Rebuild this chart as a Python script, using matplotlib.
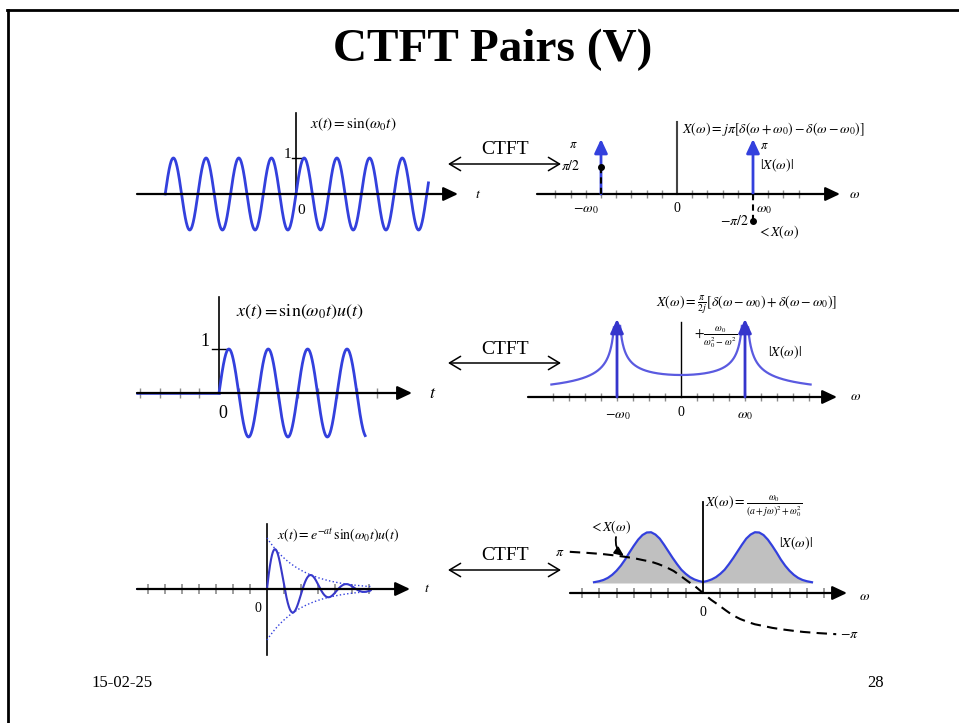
import numpy as np
import matplotlib
matplotlib.use('Agg')
import matplotlib.pyplot as plt

plt.rcParams['font.family'] = ['Liberation Serif', 'DejaVu Serif']
plt.rcParams['mathtext.fontset'] = 'stix'

#====================================
# (1) Data
#====================================
# row 1 : x(t) = sin(w0 t)  <->  impulses at +-w0
t1_range = (-4.0, 4.05)            # t in periods of the sine
w0_row1 = 5                        # impulse position in tick units
ticks_row1 = [k for k in range(-8, 9) if k != 0]
imp_omega = [-w0_row1, w0_row1]
imp_mag = [np.pi, np.pi]
imp_phase = [np.pi / 2, -np.pi / 2]

# row 2 : x(t) = sin(w0 t) u(t)
t2_range = (0.0, 7.42)             # t in tick units, period = 2 ticks
ticks_t2 = [k for k in range(-4, 9) if k != 0]
w0_row2 = 4                        # spectrum: w0 in tick units
ticks_row2 = [k for k in range(-8, 9) if k != 0]
w2_range = (-8.1, 8.1)

# row 3 : x(t) = exp(-a t) sin(w0 t) u(t)
t3_range = (0.0, 6.1)
a_row3 = 0.5
w0_t3 = 3.0
ticks_t3 = [k for k in range(-7, 7) if k != 0]
ticks_row3 = [k for k in range(-7, 8) if k != 0]
# |X(w)| (normalised) read on the right half, mirrored for the left half
mag_w = [0, 0.25, 0.5, 0.75, 1.0, 1.25, 1.5, 1.75, 2.0, 2.25, 2.5, 2.75,
         3.0, 3.25, 3.5, 3.75, 4.0, 4.25, 4.5, 4.75, 5.0, 5.25, 5.5, 5.75,
         6.0, 6.3]
mag_v = [0.02, 0.04, 0.07, 0.115, 0.18, 0.26, 0.37, 0.49, 0.62, 0.75,
         0.87, 0.95, 0.995, 0.99, 0.94, 0.85, 0.73, 0.60, 0.46, 0.34,
         0.24, 0.16, 0.10, 0.06, 0.035, 0.015]
# phase of X(w) in radians, right half (odd function)
ph_w = [0, 0.45, 0.9, 1.3, 1.7, 2.15, 2.6, 3.0, 3.5, 4.0, 4.6, 5.2, 5.8, 6.7, 7.7]
ph_v = [0, -0.5, -0.91, -1.3, -1.67, -1.97, -2.2, -2.37, -2.5, -2.64, -2.76,
        -2.86, -2.95, -3.04, -3.12]

#====================================
# (2) Slide layout helpers (pixels)
#====================================
W, H = 959, 723
fig = plt.figure(figsize=(W / 100, H / 100), dpi=100)

bg = fig.add_axes([0, 0, 1, 1])
bg.set_xlim(0, W)
bg.set_ylim(H, 0)
bg.axis('off')


def panel(box, origin, sx, sy):
    l, t, r, b = box
    ax = fig.add_axes([l / W, 1 - b / H, (r - l) / W, (b - t) / H])
    ox, oy = origin
    ax.set_xlim((l - ox) / sx, (r - ox) / sx)
    ax.set_ylim((oy - b) / sy, (oy - t) / sy)
    ax.axis('off')
    ax.patch.set_alpha(0)
    conv = lambda x, y: ((x - ox) / sx, (oy - y) / sy)
    return ax, conv


def txt(x, y, s, size=11, ha='center', va='center', **kw):
    bg.text(x, y, s, size=size, ha=ha, va=va, **kw)


def axis_arrow(ax, x0, x1, lw=1.6):
    ax.annotate('', xy=(x1, 0), xytext=(x0, 0),
                arrowprops=dict(arrowstyle='-|>,head_length=0.55,head_width=0.26',
                                lw=lw, color='k', shrinkA=0, shrinkB=0,
                                mutation_scale=16))


def up_arrow(ax, x, h, color, lw=2.0):
    ax.annotate('', xy=(x, h), xytext=(x, 0),
                arrowprops=dict(arrowstyle='-|>,head_length=0.6,head_width=0.28',
                                lw=lw, color=color, shrinkA=0, shrinkB=0,
                                mutation_scale=14))


blue = '#3340dd'
tickc = '#8c8c8c'

# slide frame, title, footer
bg.plot([7, W], [10, 10], color='k', lw=2)
bg.plot([8, 8], [10, H], color='k', lw=2)
txt(493, 50, 'CTFT Pairs (V)', size=34, weight='bold')
txt(122, 683, '15-02-25', size=12)
txt(876, 683, '28', size=12)

# CTFT double arrows
for yy in (164, 363, 570):
    bg.annotate('', xy=(561, yy), xytext=(448, yy),
                arrowprops=dict(arrowstyle='<->,head_length=0.5,head_width=0.3',
                                lw=1.1, color='k', shrinkA=0, shrinkB=0,
                                mutation_scale=16))
    txt(505, yy - 14, 'CTFT', size=14)

#====================================
# (3) Row 1
#====================================
ax1, c1 = panel((130, 105, 490, 245), (296, 194), 32.7, 36)
axis_arrow(ax1, c1(137, 0)[0], c1(458, 0)[0])
ax1.plot([0, 0], [0, c1(0, 113)[1]], color='k', lw=1.2)
ax1.plot([c1(292, 0)[0], c1(302, 0)[0]], [1, 1], color='k', lw=1)
t = np.linspace(*t1_range, 800)
ax1.plot(t, np.sin(2 * np.pi * t), color=blue, lw=2)
txt(287, 155, '1', size=11)
txt(301, 211, '0', size=11)
txt(478, 195, '$t$', size=10)
txt(310, 124, r'$x(t)=\mathrm{sin}(\omega_0 t)$', size=11, ha='left')

ax2, c2 = panel((530, 110, 880, 245), (677, 194), 15.2, 17.5)
ax2.vlines(ticks_row1, -0.24, 0.24, color=tickc, lw=1)
axis_arrow(ax2, c2(537, 0)[0], c2(840, 0)[0])
ax2.plot([0, 0], [0, c2(0, 122)[1]], color='#444444', lw=1.5)
for w, m in zip(imp_omega, imp_mag):
    up_arrow(ax2, w, m, blue)
for w, p in zip(imp_omega, imp_phase):
    ax2.plot([w, w], [0, p], color='k', lw=1.5, dashes=(3, 2), zorder=5)
    ax2.plot(w, p, 'o', color='k', ms=4, zorder=5)
txt(573, 145, r'$\pi$', size=9)
txt(764, 146, r'$\pi$', size=9)
txt(580, 166, r'$\pi/2$', size=10, ha='right')
txt(749, 221, r'$-\pi/2$', size=10, ha='right')
txt(586, 209, r'$-\omega_0$', size=10)
txt(677, 208, '0', size=10)
txt(756, 209, r'$\omega_0$', size=10, ha='left')
txt(757, 232, r'$<X(\omega)$', size=10, ha='left')
txt(760, 165, r'$|X(\omega)|$', size=10, ha='left')
txt(855, 194, r'$\omega$', size=10)
txt(682, 129, r'$X(\omega)=j\pi\left[\delta(\omega+\omega_0)-\delta(\omega-\omega_0)\right]$',
    size=10, ha='left')

#====================================
# (4) Row 2
#====================================
ax3, c3 = panel((130, 285, 450, 445), (219, 393), 19.7, 44)
ax3.vlines(ticks_t2, -0.12, 0.12, color=tickc, lw=1)
axis_arrow(ax3, c3(137, 0)[0], c3(412, 0)[0])
ax3.plot([c3(137, 0)[0], 0], [0, 0], color=blue, lw=1.8)
ax3.plot([0, 0], [0, c3(0, 297)[1]], color='k', lw=1.2)
ax3.plot([c3(212, 0)[0], c3(226, 0)[0]], [1, 1], color='k', lw=1)
t = np.linspace(*t2_range, 800)
ax3.plot(t, np.sin(np.pi * t), color=blue, lw=2)
txt(205, 342, '1', size=13)
txt(223, 413, '0', size=13)
txt(433, 394, '$t$', size=13)
txt(236, 312, r'$x(t)=\mathrm{sin}(\omega_0 t)u(t)$', size=13, ha='left')

ax4, c4 = panel((520, 290, 880, 440), (681, 397), 16, 22)
ax4.vlines(ticks_row2, -0.18, 0.18, color=tickc, lw=1)
axis_arrow(ax4, c4(528, 0)[0], c4(837, 0)[0])
ax4.plot([0, 0], [0, c4(0, 322)[1]], color='k', lw=1)
w = np.linspace(*w2_range, 1200)
ratio = w0_row2 ** 2 / np.abs(w0_row2 ** 2 - w ** 2)
shape = np.sqrt(ratio)
shape[shape > 3.27] = np.nan
ax4.plot(w, shape, color='#5a5ae0', lw=1.6)
for ww in (-w0_row2, w0_row2):
    up_arrow(ax4, ww, c4(0, 319)[1], '#3535cc')
txt(618, 415, r'$-\omega_0$', size=10)
txt(681, 413, '0', size=10)
txt(745, 415, r'$\omega_0$', size=10)
txt(856, 397, r'$\omega$', size=10)
txt(768, 352, r'$|X(\omega)|$', size=10, ha='left')
txt(694, 338, r'$+\frac{\omega_0}{\omega_0^2-\omega^2}$', size=10, ha='left')
txt(656, 305, r'$X(\omega)=\frac{\pi}{2j}\left[\delta(\omega-\omega_0)+\delta(\omega-\omega_0)\right]$',
    size=10, ha='left')

#====================================
# (5) Row 3
#====================================
ax5, c5 = panel((130, 495, 440, 665), (267, 589), 17, 51)
ax5.vlines(ticks_t3, -0.1, 0.1, color=tickc, lw=1.2)
axis_arrow(ax5, c5(137, 0)[0], c5(410, 0)[0])
ax5.plot([c5(137, 0)[0], 0], [0, 0], color=blue, lw=1.2)
ax5.plot([0, 0], [c5(0, 655)[1], c5(0, 524)[1]], color='k', lw=1.2)
t = np.linspace(*t3_range, 800)
env = np.exp(-a_row3 * t)
ax5.plot(t, env * np.sin(w0_t3 * t), color='#3838c8', lw=1.5)
ax5.plot(t, env, color=blue, lw=1, ls=':')
ax5.plot(t, -env, color=blue, lw=1, ls=':')
txt(258, 608, '0', size=10)
txt(427, 589, '$t$', size=10)
txt(277, 535, r'$x(t)=e^{-at}\,\mathrm{sin}(\omega_0 t)u(t)$', size=10, ha='left')

ax6, c6 = panel((540, 485, 880, 655), (703, 593), 17.3, 13.2)
ax6.vlines(ticks_row3, -0.38, 0.38, color=tickc, lw=1.2)
base = c6(0, 583)[1]
peak = c6(0, 532)[1] - base
mw = np.concatenate([-np.array(mag_w[::-1]), np.array(mag_w[1:])])
mv = np.concatenate([np.array(mag_v[::-1]), np.array(mag_v[1:])])
pw = np.concatenate([-np.array(ph_w[::-1]), np.array(ph_w[1:])])
pv = np.concatenate([-np.array(ph_v[::-1]), np.array(ph_v[1:])])
ax6.fill_between(mw, base, base + peak * mv, color='#c0c0c0', lw=0)
ax6.plot(mw, base + peak * mv, color=blue, lw=1.6)
axis_arrow(ax6, c6(570, 0)[0], c6(847, 0)[0])
ax6.plot([0, 0], [0, c6(0, 502)[1]], color='k', lw=1.3)
ax6.plot(pw, pv, color='k', lw=1.5, dashes=(5, 3))
bg.annotate('', xy=(624, 556), xytext=(616, 537),
            arrowprops=dict(arrowstyle='-|>,head_length=0.5,head_width=0.22',
                            connectionstyle='arc3,rad=0.3', lw=1.3, color='k',
                            shrinkA=0, shrinkB=0, mutation_scale=11))
txt(560, 552, r'$\pi$', size=10)
txt(849, 635, r'$-\pi$', size=10)
txt(703, 612, '0', size=10)
txt(865, 597, r'$\omega$', size=10)
txt(610, 527, r'$<X(\omega)$', size=10)
txt(779, 543, r'$|X(\omega)|$', size=10, ha='left')
txt(705, 507, r'$X(\omega)=\frac{\omega_0}{(a+j\omega)^2+\omega_0^2}$', size=10, ha='left')

fig.savefig('out.png', dpi=100)
